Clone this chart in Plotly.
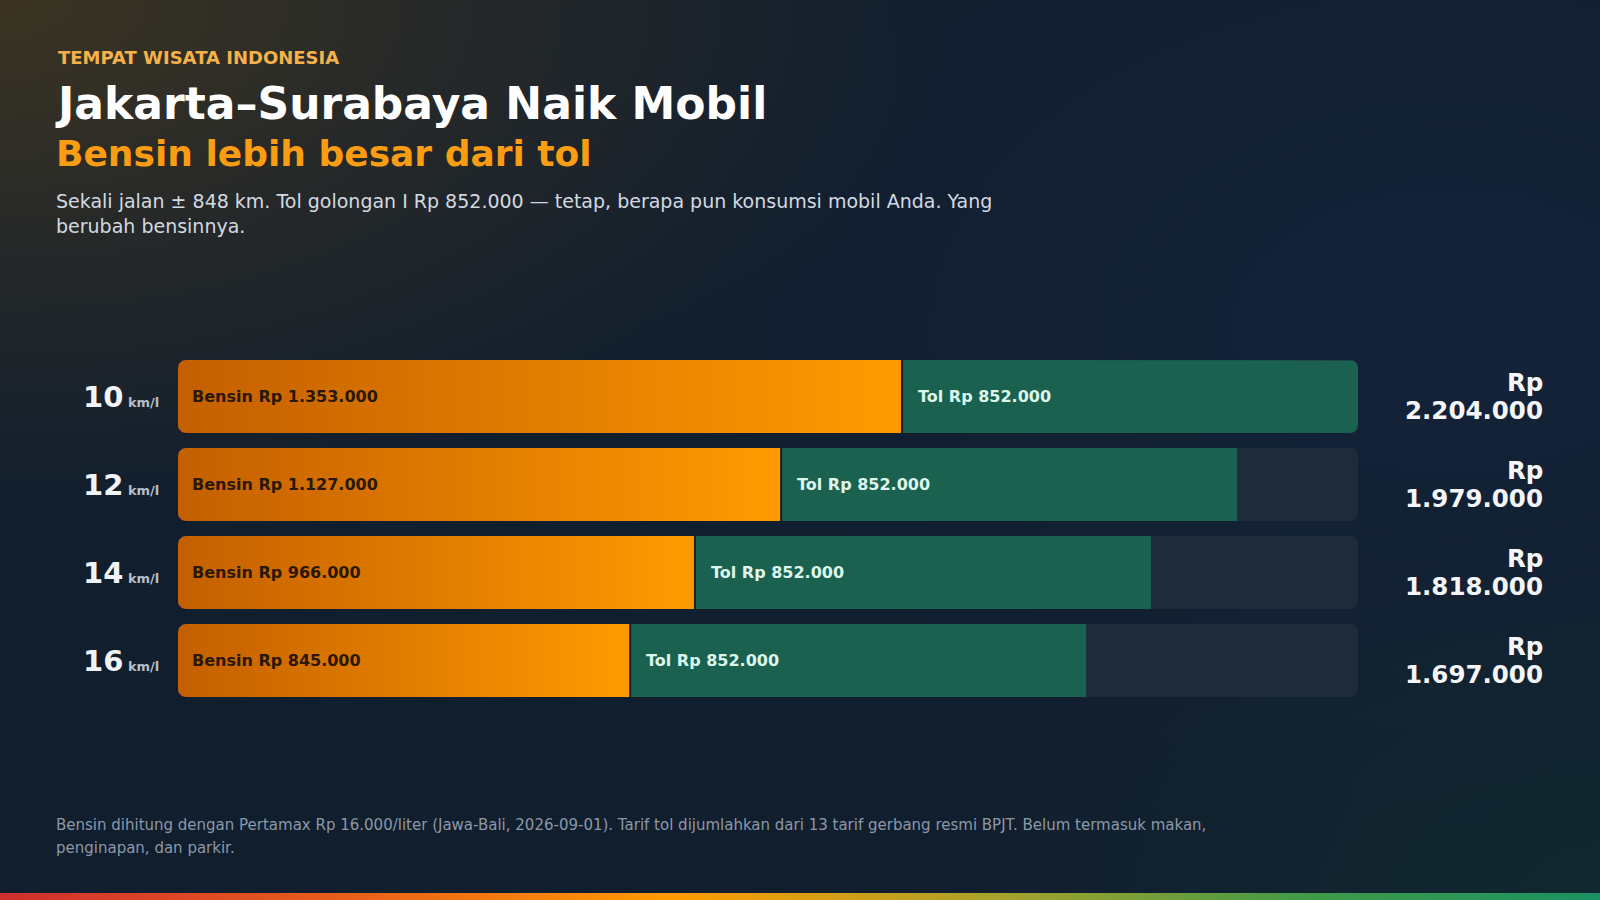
import math
import plotly.graph_objects as go

# ---------------- data ----------------
efisiensi = [10, 12, 14, 16]                      # km/l
bensin = [1353000, 1127000, 966000, 845000]       # Rp
tol = [852000, 852000, 852000, 852000]            # Rp
total = [2204000, 1979000, 1818000, 1697000]      # Rp (label)

kicker = "TEMPAT WISATA INDONESIA"
title = "Jakarta–Surabaya Naik Mobil"
subtitle = "Bensin lebih besar dari tol"
desc = ("Sekali jalan ± 848 km. Tol golongan I Rp 852.000 — tetap, berapa pun konsumsi mobil Anda. Yang"
        "<br>berubah bensinnya.")
foot1 = ("Bensin dihitung dengan Pertamax Rp 16.000/liter (Jawa-Bali, 2026-09-01). "
         "Tarif tol dijumlahkan dari 13 tarif gerbang resmi BPJT. Belum termasuk makan,")
foot2 = "penginapan, dan parkir."

# ---------------- layout constants ----------------
W, H = 1600, 900
PLOT_L, PLOT_R = 178, 1358
ROW_TOP, ROW_PITCH = 352.5, 88
BAR_HALF_PX = 36.5
RADIUS_PX = 8
FONT = "DejaVu Sans"

n = len(efisiensi)
xmax = max(b + t for b, t in zip(bensin, tol))
ux = xmax / (PLOT_R - PLOT_L)   # data units per pixel (x)
uy = 1.0 / ROW_PITCH            # data units per pixel (y)
hh = BAR_HALF_PX * uy


def rupiah(v):
    return "Rp " + f"{v:,}".replace(",", ".")


def rounded_path(x0, x1, yc, rl, rr, steps=10):
    top, bot = yc - hh, yc + hh
    corners = [
        (x0 + rl * ux, top + rl * uy, rl, 180, 270),
        (x1 - rr * ux, top + rr * uy, rr, 270, 360),
        (x1 - rr * ux, bot - rr * uy, rr, 0, 90),
        (x0 + rl * ux, bot - rl * uy, rl, 90, 180),
    ]
    xs, ys = [], []
    for cx, cy, r, a0, a1 in corners:
        if r == 0:
            xs.append(cx)
            ys.append(cy)
            continue
        for k in range(steps + 1):
            a = math.radians(a0 + (a1 - a0) * k / steps)
            xs.append(cx + r * ux * math.cos(a))
            ys.append(cy + r * uy * math.sin(a))
    xs.append(xs[0])
    ys.append(ys[0])
    return xs, ys


fig = go.Figure()

# ---------------- background (full-page axes xy) ----------------
def glow(cx, cy, rx, ry, rgb, alpha):
    fig.add_trace(go.Scatter(
        x=[cx - rx, cx + rx, cx + rx, cx - rx, cx - rx],
        y=[cy - ry, cy - ry, cy + ry, cy + ry, cy - ry],
        mode="lines", fill="toself", line=dict(width=0, color="rgba(0,0,0,0)"),
        fillgradient=dict(type="radial", colorscale=[
            [0, f"rgba({rgb},{alpha})"], [0.5, f"rgba({rgb},{alpha*0.45})"], [1, f"rgba({rgb},0)"]]),
        hoverinfo="skip", showlegend=False, xaxis="x", yaxis="y"))


glow(1450, 330, 800, 520, "26,44,80", 0.35)
glow(1620, 900, 650, 380, "16,58,50", 0.4)
glow(0, 0, 950, 520, "95,70,25", 0.55)

# bottom rainbow strip
fig.add_trace(go.Scatter(
    x=[0, W, W, 0, 0], y=[893, 893, H, H, 893],
    mode="lines", fill="toself", line=dict(width=0, color="rgba(0,0,0,0)"),
    fillgradient=dict(type="horizontal", colorscale=[
        [0, "#cf2f2f"], [0.2, "#e65a1c"], [0.42, "#ff9a00"], [0.62, "#a9a22a"],
        [0.82, "#3f9a48"], [1, "#1b9262"]]),
    hoverinfo="skip", showlegend=False, xaxis="x", yaxis="y"))

# ---------------- bars (data axes x2/y2) ----------------
for i in range(n):
    # track
    tx, ty = rounded_path(0, xmax, i, RADIUS_PX, RADIUS_PX)
    fig.add_trace(go.Scatter(x=tx, y=ty, mode="lines", fill="toself",
                             fillcolor="#1d2b3b", line=dict(width=0, color="rgba(0,0,0,0)"),
                             hoverinfo="skip", showlegend=False, xaxis="x2", yaxis="y2"))
    # toll (green)
    end = bensin[i] + tol[i]
    rr = RADIUS_PX if end >= xmax else 0
    gx, gy = rounded_path(bensin[i], end, i, 0, rr)
    fig.add_trace(go.Scatter(x=gx, y=gy, mode="lines", fill="toself",
                             fillcolor="#1a614f", line=dict(width=0, color="rgba(0,0,0,0)"),
                             hoverinfo="skip", showlegend=False, xaxis="x2", yaxis="y2"))
    # fuel (orange gradient)
    ox, oy = rounded_path(0, bensin[i], i, RADIUS_PX, 0)
    fig.add_trace(go.Scatter(x=ox, y=oy, mode="lines", fill="toself",
                             line=dict(width=0, color="rgba(0,0,0,0)"),
                             fillgradient=dict(type="horizontal",
                                               colorscale=[[0, "#c45f00"], [1, "#ff9b00"]]),
                             hoverinfo="skip", showlegend=False, xaxis="x2", yaxis="y2"))
    # separator
    fig.add_trace(go.Scatter(x=[bensin[i], bensin[i]], y=[i - hh, i + hh], mode="lines",
                             line=dict(width=2, color="#17202a"),
                             hoverinfo="skip", showlegend=False, xaxis="x2", yaxis="y2"))

annotations = []


def py(px):
    return 1 - px / H


# header texts
annotations += [
    dict(text=kicker, x=56 / W, y=py(57), xref="paper", yref="paper", xanchor="left", yanchor="middle",
         showarrow=False, font=dict(family=FONT, size=18, color="#f5b24a", weight="bold")),
    dict(text=title, x=53 / W, y=py(103), xref="paper", yref="paper", xanchor="left", yanchor="middle",
         showarrow=False, font=dict(family=FONT, size=44, color="#ffffff", weight="bold")),
    dict(text=subtitle, x=54 / W, y=py(153), xref="paper", yref="paper", xanchor="left", yanchor="middle",
         showarrow=False, font=dict(family=FONT, size=36, color="#fb9d12", weight="bold")),
    dict(text=desc, x=54 / W, y=py(213.5), xref="paper", yref="paper", xanchor="left", yanchor="middle",
         align="left", showarrow=False, font=dict(family=FONT, size=19, color="#d3d9e1")),
    dict(text=foot1, x=54 / W, y=py(825), xref="paper", yref="paper", xanchor="left", yanchor="middle",
         showarrow=False, font=dict(family=FONT, size=15, color="#8c98a7")),
    dict(text=foot2, x=54 / W, y=py(848), xref="paper", yref="paper", xanchor="left", yanchor="middle",
         showarrow=False, font=dict(family=FONT, size=15, color="#8c98a7")),
]

for i in range(n):
    # left efficiency label
    annotations.append(dict(
        text=f"<b>{efisiensi[i]}</b><span style='font-size:13px;color:#b3bec9'><b> km/l</b></span>",
        x=161 / W, xref="paper", y=i, yref="y2", xanchor="right", yanchor="middle",
        showarrow=False, font=dict(family=FONT, size=29, color="#f1f4f7")))
    # inside labels
    annotations.append(dict(
        text=f"Bensin {rupiah(bensin[i])}", x=0, xref="x2", y=i, yref="y2",
        xanchor="left", yanchor="middle", xshift=12, showarrow=False,
        font=dict(family=FONT, size=16, color="#2a1706", weight="bold")))
    annotations.append(dict(
        text=f"Tol {rupiah(tol[i])}", x=bensin[i], xref="x2", y=i, yref="y2",
        xanchor="left", yanchor="middle", xshift=14, showarrow=False,
        font=dict(family=FONT, size=16, color="#def5ec", weight="bold")))
    # right total
    annotations.append(dict(
        text="Rp", x=1545 / W, xref="paper", y=i, yref="y2", yshift=14,
        xanchor="right", yanchor="middle", showarrow=False,
        font=dict(family=FONT, size=24.5, color="#f4f6f8", weight="bold")))
    annotations.append(dict(
        text=f"{total[i]:,}".replace(",", "."), x=1545 / W, xref="paper", y=i, yref="y2", yshift=-13.5,
        xanchor="right", yanchor="middle", showarrow=False,
        font=dict(family=FONT, size=24.5, color="#f4f6f8", weight="bold")))

hidden = dict(visible=False, showgrid=False, zeroline=False, fixedrange=True)
fig.update_layout(
    width=W, height=H, autosize=False,
    margin=dict(l=0, r=0, t=0, b=0, pad=0),
    paper_bgcolor="#111e2e", plot_bgcolor="rgba(0,0,0,0)",
    showlegend=False,
    xaxis=dict(domain=[0, 1], range=[0, W], **hidden),
    yaxis=dict(domain=[0, 1], range=[H, 0], **hidden),
    xaxis2=dict(domain=[PLOT_L / W, PLOT_R / W], range=[0, xmax], anchor="y2", **hidden),
    yaxis2=dict(domain=[(H - (ROW_TOP + n * ROW_PITCH)) / H, (H - ROW_TOP) / H],
                range=[n - 0.5, -0.5], anchor="x2", **hidden),
    annotations=annotations,
    font=dict(family=FONT),
)

fig.write_html("out.html", config={"displayModeBar": False, "staticPlot": True},
               post_script="document.body.style.margin='0';document.body.style.overflow='hidden';")
